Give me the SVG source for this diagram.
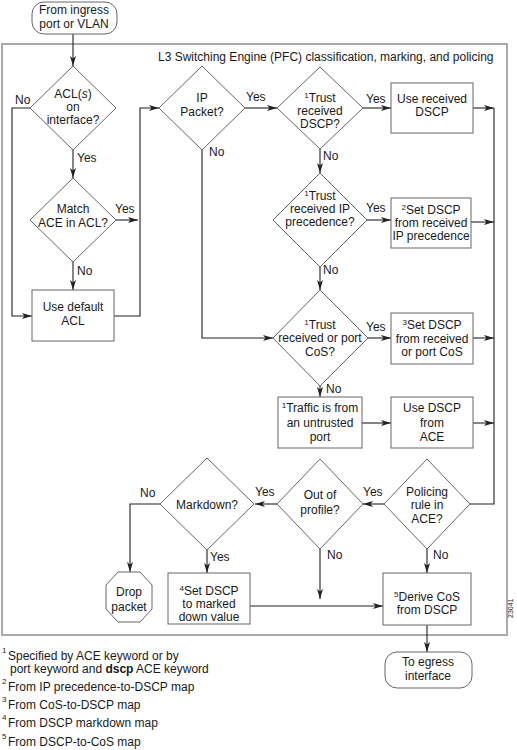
<svg xmlns="http://www.w3.org/2000/svg" width="517" height="750" viewBox="0 0 517 750">
<style>
text{font-family:"Liberation Sans",Arial,sans-serif;font-size:12px;fill:#1a1a1a}
.c{text-anchor:middle}
.n{fill:#fff;stroke:#666;stroke-width:1}
.l{fill:none;stroke:#222;stroke-width:1.1}
.s{font-size:8px}
.fr{fill:none;stroke:#aaa;stroke-width:2}
</style>
<defs>
<marker id="a" viewBox="0 0 10 6" refX="10" refY="3" markerWidth="10" markerHeight="6" markerUnits="userSpaceOnUse" orient="auto">
<path d="M0,0 L10,3 L0,6 L2.5,3 z" fill="#222"/>
</marker>
</defs>
<rect class="fr" x="2" y="44" width="505" height="591"/>
<text x="158" y="61">L3 Switching Engine (PFC) classification, marking, and policing</text>

<g id="connectors">
<path class="l" d="M73,34 V66" marker-end="url(#a)"/>
<path class="l" d="M30,108 H12 V316 H32" marker-end="url(#a)"/>
<path class="l" d="M73,150 V178" marker-end="url(#a)"/>
<path class="l" d="M116,220 H138" marker-end="url(#a)"/>
<path class="l" d="M73,262 V290" marker-end="url(#a)"/>
<path class="l" d="M114,316 H140 V108 H159" marker-end="url(#a)"/>
<path class="l" d="M245,108 H277" marker-end="url(#a)"/>
<path class="l" d="M202,150 V338 H273" marker-end="url(#a)"/>
<path class="l" d="M363,108 H391" marker-end="url(#a)"/>
<path class="l" d="M320,149 V173" marker-end="url(#a)"/>
<path class="l" d="M367,220 H391" marker-end="url(#a)"/>
<path class="l" d="M320,267 V290" marker-end="url(#a)"/>
<path class="l" d="M368,338 H391" marker-end="url(#a)"/>
<path class="l" d="M320,386 V397" marker-end="url(#a)"/>
<path class="l" d="M362,423 H391" marker-end="url(#a)"/>
<path class="l" d="M473,108 H494" marker-end="url(#a)"/>
<path class="l" d="M471,222 H494" marker-end="url(#a)"/>
<path class="l" d="M473,338 H494" marker-end="url(#a)"/>
<path class="l" d="M473,423 H494" marker-end="url(#a)"/>
<path class="l" d="M494,108 V504 H470"/>
<path class="l" d="M384,504 H363" marker-end="url(#a)"/>
<path class="l" d="M277,504 H255" marker-end="url(#a)"/>
<path class="l" d="M160,504 H130 V572" marker-end="url(#a)"/>
<path class="l" d="M207,550 V573" marker-end="url(#a)"/>
<path class="l" d="M320,549 V599" marker-end="url(#a)"/>
<path class="l" d="M427,549 V573" marker-end="url(#a)"/>
<path class="l" d="M250,606 H383" marker-end="url(#a)"/>
<path class="l" d="M427,625 V652" marker-end="url(#a)"/>
</g>

<g id="labels">
<text x="15" y="104">No</text>
<text x="77" y="162">Yes</text>
<text x="115" y="213">Yes</text>
<text x="77" y="275">No</text>
<text x="246" y="101">Yes</text>
<text x="209" y="156">No</text>
<text x="366" y="103">Yes</text>
<text x="323" y="160">No</text>
<text x="366" y="212">Yes</text>
<text x="323" y="274">No</text>
<text x="366" y="331">Yes</text>
<text x="326" y="393">No</text>
<text x="363" y="496">Yes</text>
<text x="255" y="496">Yes</text>
<text x="140" y="497">No</text>
<text x="210" y="561">Yes</text>
<text x="327" y="559">No</text>
<text x="433" y="559">No</text>
</g>

<g id="start">
<rect class="n" x="32" y="2" width="85" height="32" rx="12"/>
<text class="c" x="74" y="14">From ingress</text>
<text class="c" x="74" y="28">port or VLAN</text>
</g>
<g id="acl">
<polygon class="n" points="73,66 116,108 73,150 30,108"/>
<text class="c" x="73" y="98">ACL(<tspan font-style="italic">s</tspan>)</text>
<text class="c" x="73" y="111">on</text>
<text class="c" x="73" y="124">interface?</text>
</g>
<g id="match">
<polygon class="n" points="73,178 116,220 73,262 30,220"/>
<text class="c" x="73" y="213">Match</text>
<text class="c" x="73" y="227">ACE in ACL?</text>
</g>
<g id="default">
<rect class="n" x="32" y="290" width="82" height="51"/>
<text class="c" x="73" y="311">Use default</text>
<text class="c" x="73" y="325">ACL</text>
</g>
<g id="ip">
<polygon class="n" points="202,66 245,108 202,150 159,108"/>
<text class="c" x="202" y="102">IP</text>
<text class="c" x="202" y="116">Packet?</text>
</g>
<g id="trustdscp">
<polygon class="n" points="320,67 363,108 320,149 277,108"/>
<text class="c" x="320" y="102"><tspan class="s" dy="-4">1</tspan><tspan dy="4">Trust</tspan></text>
<text class="c" x="320" y="115">received</text>
<text class="c" x="320" y="128">DSCP?</text>
</g>
<g id="usedscp">
<rect class="n" x="391" y="83" width="82" height="50"/>
<text class="c" x="432" y="103">Use received</text>
<text class="c" x="432" y="116">DSCP</text>
</g>
<g id="trustip">
<polygon class="n" points="320,173 367,220 320,267 273,220"/>
<text class="c" x="320" y="200"><tspan class="s" dy="-4">1</tspan><tspan dy="4">Trust</tspan></text>
<text class="c" x="320" y="213">received IP</text>
<text class="c" x="320" y="226">precedence?</text>
</g>
<g id="setip">
<rect class="n" x="391" y="198" width="80" height="50"/>
<text class="c" x="431" y="214"><tspan class="s" dy="-4">2</tspan><tspan dy="4">Set DSCP</tspan></text>
<text class="c" x="431" y="227">from received</text>
<text class="c" x="431" y="240">IP precedence</text>
</g>
<g id="trustcos">
<polygon class="n" points="320,290 368,338 320,386 273,338"/>
<text class="c" x="320" y="329"><tspan class="s" dy="-4">1</tspan><tspan dy="4">Trust</tspan></text>
<text class="c" x="320" y="342">received or port</text>
<text class="c" x="320" y="356">CoS?</text>
</g>
<g id="setcos">
<rect class="n" x="391" y="313" width="82" height="51"/>
<text class="c" x="432" y="329"><tspan class="s" dy="-4">3</tspan><tspan dy="4">Set DSCP</tspan></text>
<text class="c" x="432" y="343">from received</text>
<text class="c" x="432" y="356">or port CoS</text>
</g>
<g id="untrusted">
<rect class="n" x="278" y="397" width="84" height="51"/>
<text class="c" x="320" y="412"><tspan class="s" dy="-4">1</tspan><tspan dy="4">Traffic is from</tspan></text>
<text class="c" x="320" y="427">an untrusted</text>
<text class="c" x="320" y="441">port</text>
</g>
<g id="aceds">
<rect class="n" x="391" y="397" width="82" height="51"/>
<text class="c" x="432" y="412">Use DSCP</text>
<text class="c" x="432" y="427">from</text>
<text class="c" x="432" y="441">ACE</text>
</g>
<g id="policing">
<polygon class="n" points="427,459 470,504 427,549 384,504"/>
<text class="c" x="427" y="496">Policing</text>
<text class="c" x="427" y="509">rule in</text>
<text class="c" x="427" y="523">ACE?</text>
</g>
<g id="profile">
<polygon class="n" points="320,459 363,504 320,549 277,504"/>
<text class="c" x="320" y="499">Out of</text>
<text class="c" x="320" y="514">profile?</text>
</g>
<g id="markdown">
<polygon class="n" points="207,458 254,504 207,550 160,504"/>
<text class="c" x="207" y="509">Markdown?</text>
</g>
<g id="drop">
<polygon class="n" points="118,572 140,572 152,585 152,609 140,622 118,622 106,609 106,585"/>
<text class="c" x="129" y="596">Drop</text>
<text class="c" x="129" y="611">packet</text>
</g>
<g id="setmark">
<rect class="n" x="168" y="573" width="82" height="51"/>
<text class="c" x="209" y="595"><tspan class="s" dy="-4">4</tspan><tspan dy="4">Set DSCP</tspan></text>
<text class="c" x="209" y="608">to marked</text>
<text class="c" x="209" y="621">down value</text>
</g>
<g id="derive">
<rect class="n" x="383" y="573" width="88" height="52"/>
<text class="c" x="427" y="601"><tspan class="s" dy="-4">5</tspan><tspan dy="4">Derive CoS</tspan></text>
<text class="c" x="427" y="614">from DSCP</text>
</g>
<g id="egress">
<rect class="n" x="385" y="652" width="87" height="36" rx="12"/>
<text class="c" x="428" y="666">To egress</text>
<text class="c" x="428" y="680">interface</text>
</g>

<text x="513" y="618" transform="rotate(-90 513 618)" style="font-size:7px">23041</text>

<g id="footnotes">
<text x="2" y="653" class="s">1</text>
<text x="8" y="660">Specified by ACE keyword or by</text>
<text x="10" y="673">port keyword and <tspan font-weight="bold">dscp</tspan> ACE keyword</text>
<text x="2" y="684" class="s">2</text>
<text x="8" y="691">From IP precedence-to-DSCP map</text>
<text x="2" y="702" class="s">3</text>
<text x="8" y="709">From CoS-to-DSCP map</text>
<text x="2" y="720" class="s">4</text>
<text x="8" y="727">From DSCP markdown map</text>
<text x="2" y="739" class="s">5</text>
<text x="8" y="746">From DSCP-to-CoS map</text>
</g>
</svg>
